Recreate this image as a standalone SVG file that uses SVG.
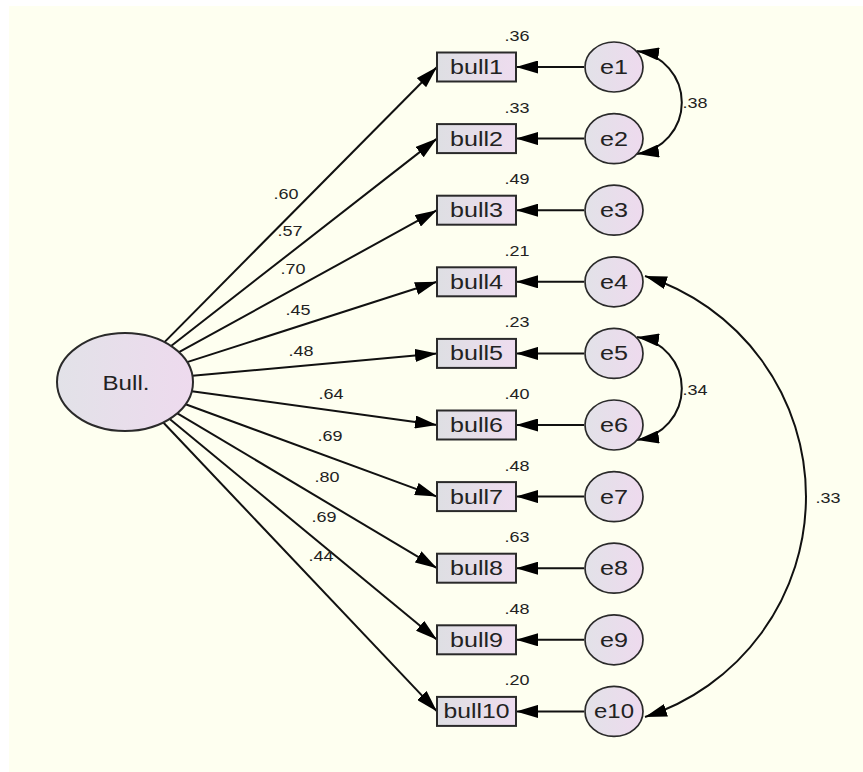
<svg xmlns="http://www.w3.org/2000/svg" width="863" height="772" viewBox="0 0 863 772">
  <style>
    text { font-family: "Liberation Sans", Arial, sans-serif; fill: #222; }
    .obs { fill: url(#boxFill); stroke: #2a2a2a; stroke-width: 2; }
    .err { fill: url(#circFill); stroke: #2a2a2a; stroke-width: 1.7; }
    .lat { fill: url(#circFill); stroke: #2a2a2a; stroke-width: 2; }
    .name { font-size: 20px; text-anchor: middle; }
    .coef { font-size: 15px; text-anchor: middle; }
    .path { fill: none; stroke: #111; stroke-width: 2; marker-end: url(#head); }
    .cov { fill: none; stroke: #111; stroke-width: 2; marker-start: url(#headRev); marker-end: url(#head); }
  </style>
  <defs>
    <linearGradient id="boxFill" x1="0" y1="0" x2="1" y2="0">
      <stop offset="0" stop-color="#dedfe3"/>
      <stop offset="1" stop-color="#eedcef"/>
    </linearGradient>
    <linearGradient id="circFill" x1="0" y1="0" x2="1" y2="0">
      <stop offset="0" stop-color="#e2e2e8"/>
      <stop offset="1" stop-color="#eedaee"/>
    </linearGradient>
    <marker id="head" markerUnits="userSpaceOnUse" markerWidth="22" markerHeight="13" refX="22" refY="6.5" orient="auto">
      <path d="M0,0 L22,6.5 L0,13 z" fill="#000"/>
    </marker>
    <marker id="headRev" markerUnits="userSpaceOnUse" markerWidth="22" markerHeight="13" refX="22" refY="6.5" orient="auto-start-reverse">
      <path d="M0,0 L22,6.5 L0,13 z" fill="#000"/>
    </marker>
  </defs>

  <!-- canvas -->
  <rect x="9" y="6" width="854" height="766" fill="#fefff0"/>

  <!-- connectors -->
  <g id="connectors">
    <!-- factor loadings -->
    <line class="path" x1="164.5" y1="342.1" x2="437" y2="67"/>
    <line class="path" x1="171.1" y1="346.0" x2="437" y2="138.6"/>
    <line class="path" x1="179.0" y1="352.2" x2="437" y2="210.2"/>
    <line class="path" x1="187.1" y1="362.1" x2="437" y2="281.8"/>
    <line class="path" x1="192.5" y1="375.8" x2="437" y2="353.4"/>
    <line class="path" x1="191.8" y1="391.2" x2="437" y2="425"/>
    <line class="path" x1="185.6" y1="404.3" x2="437" y2="496.6"/>
    <line class="path" x1="177.4" y1="413.3" x2="437" y2="568.2"/>
    <line class="path" x1="169.7" y1="418.9" x2="437" y2="639.8"/>
    <line class="path" x1="163.3" y1="422.5" x2="437" y2="711.4"/>
    <!-- error terms -->
    <line class="path" x1="584" y1="67" x2="516" y2="67"/>
    <line class="path" x1="584" y1="138.6" x2="516" y2="138.6"/>
    <line class="path" x1="584" y1="210.2" x2="516" y2="210.2"/>
    <line class="path" x1="584" y1="281.8" x2="516" y2="281.8"/>
    <line class="path" x1="584" y1="353.4" x2="516" y2="353.4"/>
    <line class="path" x1="584" y1="425" x2="516" y2="425"/>
    <line class="path" x1="584" y1="496.6" x2="516" y2="496.6"/>
    <line class="path" x1="584" y1="568.2" x2="516" y2="568.2"/>
    <line class="path" x1="584" y1="639.8" x2="516" y2="639.8"/>
    <line class="path" x1="584" y1="711.4" x2="516" y2="711.4"/>
    <!-- error covariances -->
    <path class="cov" d="M637,51 A52,52 0 0 1 637,154"/>
    <path class="cov" d="M637,337 A52,52 0 0 1 637,440"/>
    <path class="cov" d="M645,276 A231.5,231.5 0 0 1 645,717"/>
    <!-- loading labels -->
    <text class="coef" x="286" y="199" textLength="25" lengthAdjust="spacingAndGlyphs">.60</text>
    <text class="coef" x="290" y="236" textLength="25" lengthAdjust="spacingAndGlyphs">.57</text>
    <text class="coef" x="293" y="274" textLength="25" lengthAdjust="spacingAndGlyphs">.70</text>
    <text class="coef" x="298" y="315" textLength="25" lengthAdjust="spacingAndGlyphs">.45</text>
    <text class="coef" x="301" y="356" textLength="25" lengthAdjust="spacingAndGlyphs">.48</text>
    <text class="coef" x="331" y="399" textLength="25" lengthAdjust="spacingAndGlyphs">.64</text>
    <text class="coef" x="330" y="441" textLength="25" lengthAdjust="spacingAndGlyphs">.69</text>
    <text class="coef" x="327" y="482" textLength="25" lengthAdjust="spacingAndGlyphs">.80</text>
    <text class="coef" x="324" y="522" textLength="25" lengthAdjust="spacingAndGlyphs">.69</text>
    <text class="coef" x="321" y="561" textLength="25" lengthAdjust="spacingAndGlyphs">.44</text>
    <!-- covariance labels -->
    <text class="coef" x="695" y="108" textLength="25" lengthAdjust="spacingAndGlyphs">.38</text>
    <text class="coef" x="695" y="395" textLength="25" lengthAdjust="spacingAndGlyphs">.34</text>
    <text class="coef" x="828" y="503" textLength="25" lengthAdjust="spacingAndGlyphs">.33</text>
  </g>

  <!-- latent factor -->
  <g id="Bull">
    <ellipse class="lat" cx="125" cy="382" rx="68" ry="49"/>
    <text class="name" x="126" y="390" textLength="47" lengthAdjust="spacingAndGlyphs">Bull.</text>
  </g>

  <!-- observed indicators: box, name, squared multiple correlation -->
  <g id="bull1"><rect class="obs" x="437" y="52.5" width="79" height="29"/><text class="name" x="476.5" y="74" textLength="53" lengthAdjust="spacingAndGlyphs">bull1</text><text class="coef" x="517" y="41" textLength="25" lengthAdjust="spacingAndGlyphs">.36</text></g>
  <g id="bull2"><rect class="obs" x="437" y="124.1" width="79" height="29"/><text class="name" x="476.5" y="145.6" textLength="53" lengthAdjust="spacingAndGlyphs">bull2</text><text class="coef" x="517" y="112.6" textLength="25" lengthAdjust="spacingAndGlyphs">.33</text></g>
  <g id="bull3"><rect class="obs" x="437" y="195.7" width="79" height="29"/><text class="name" x="476.5" y="217.2" textLength="53" lengthAdjust="spacingAndGlyphs">bull3</text><text class="coef" x="517" y="184.2" textLength="25" lengthAdjust="spacingAndGlyphs">.49</text></g>
  <g id="bull4"><rect class="obs" x="437" y="267.3" width="79" height="29"/><text class="name" x="476.5" y="288.8" textLength="53" lengthAdjust="spacingAndGlyphs">bull4</text><text class="coef" x="517" y="255.8" textLength="25" lengthAdjust="spacingAndGlyphs">.21</text></g>
  <g id="bull5"><rect class="obs" x="437" y="338.9" width="79" height="29"/><text class="name" x="476.5" y="360.4" textLength="53" lengthAdjust="spacingAndGlyphs">bull5</text><text class="coef" x="517" y="327.4" textLength="25" lengthAdjust="spacingAndGlyphs">.23</text></g>
  <g id="bull6"><rect class="obs" x="437" y="410.5" width="79" height="29"/><text class="name" x="476.5" y="432" textLength="53" lengthAdjust="spacingAndGlyphs">bull6</text><text class="coef" x="517" y="399" textLength="25" lengthAdjust="spacingAndGlyphs">.40</text></g>
  <g id="bull7"><rect class="obs" x="437" y="482.1" width="79" height="29"/><text class="name" x="476.5" y="503.6" textLength="53" lengthAdjust="spacingAndGlyphs">bull7</text><text class="coef" x="517" y="470.6" textLength="25" lengthAdjust="spacingAndGlyphs">.48</text></g>
  <g id="bull8"><rect class="obs" x="437" y="553.7" width="79" height="29"/><text class="name" x="476.5" y="575.2" textLength="53" lengthAdjust="spacingAndGlyphs">bull8</text><text class="coef" x="517" y="542.2" textLength="25" lengthAdjust="spacingAndGlyphs">.63</text></g>
  <g id="bull9"><rect class="obs" x="437" y="625.3" width="79" height="29"/><text class="name" x="476.5" y="646.8" textLength="53" lengthAdjust="spacingAndGlyphs">bull9</text><text class="coef" x="517" y="613.8" textLength="25" lengthAdjust="spacingAndGlyphs">.48</text></g>
  <g id="bull10"><rect class="obs" x="437" y="696.9" width="79" height="29"/><text class="name" x="476.5" y="718.4" textLength="66" lengthAdjust="spacingAndGlyphs">bull10</text><text class="coef" x="517" y="685.4" textLength="25" lengthAdjust="spacingAndGlyphs">.20</text></g>

  <!-- error terms -->
  <g id="e1"><ellipse class="err" cx="614" cy="67" rx="29" ry="25"/><text class="name" x="614" y="74" textLength="28" lengthAdjust="spacingAndGlyphs">e1</text></g>
  <g id="e2"><ellipse class="err" cx="614" cy="138.6" rx="29" ry="25"/><text class="name" x="614" y="145.6" textLength="28" lengthAdjust="spacingAndGlyphs">e2</text></g>
  <g id="e3"><ellipse class="err" cx="614" cy="210.2" rx="29" ry="25"/><text class="name" x="614" y="217.2" textLength="28" lengthAdjust="spacingAndGlyphs">e3</text></g>
  <g id="e4"><ellipse class="err" cx="614" cy="281.8" rx="29" ry="25"/><text class="name" x="614" y="288.8" textLength="28" lengthAdjust="spacingAndGlyphs">e4</text></g>
  <g id="e5"><ellipse class="err" cx="614" cy="353.4" rx="29" ry="25"/><text class="name" x="614" y="360.4" textLength="28" lengthAdjust="spacingAndGlyphs">e5</text></g>
  <g id="e6"><ellipse class="err" cx="614" cy="425" rx="29" ry="25"/><text class="name" x="614" y="432" textLength="28" lengthAdjust="spacingAndGlyphs">e6</text></g>
  <g id="e7"><ellipse class="err" cx="614" cy="496.6" rx="29" ry="25"/><text class="name" x="614" y="503.6" textLength="28" lengthAdjust="spacingAndGlyphs">e7</text></g>
  <g id="e8"><ellipse class="err" cx="614" cy="568.2" rx="29" ry="25"/><text class="name" x="614" y="575.2" textLength="28" lengthAdjust="spacingAndGlyphs">e8</text></g>
  <g id="e9"><ellipse class="err" cx="614" cy="639.8" rx="29" ry="25"/><text class="name" x="614" y="646.8" textLength="28" lengthAdjust="spacingAndGlyphs">e9</text></g>
  <g id="e10"><ellipse class="err" cx="614" cy="711.4" rx="29" ry="25"/><text class="name" x="614" y="718.4" textLength="40" lengthAdjust="spacingAndGlyphs">e10</text></g>
</svg>
